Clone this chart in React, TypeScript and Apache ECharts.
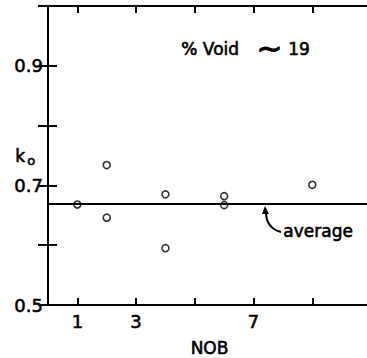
import React, { useEffect, useRef } from "react";
import * as echarts from "echarts";

const nobValues = [1, 2, 2, 4, 4, 6, 6, 9];
const k0Values = [0.668, 0.734, 0.646, 0.685, 0.595, 0.682, 0.667, 0.701];
const averageK0 = 0.673;
const xTicks = [1, 3, 5, 7, 9];
const xTickLabels = [1, 3, 7];
const yTicks = [0.5, 0.6, 0.7, 0.8, 0.9, 1.0];
const yTickLabels = [0.5, 0.7, 0.9];

const FONT = "'DejaVu Sans', sans-serif";
const thick = { textBorderColor: "#000", textBorderWidth: 0.6 };

export default function App() {
  const ref = useRef<HTMLDivElement>(null);
  useEffect(() => {
    if (!ref.current) return;
    const chart = echarts.init(ref.current, undefined, { renderer: "svg" });
    const axisLine = { show: true, lineStyle: { color: "#000", width: 2 } };
    const label = { color: "#000", fontSize: 18, fontFamily: FONT, ...thick };
    const txt = (text: string, left: number, top: number, fontSize = 17) => ({
      type: "text",
      left,
      top,
      style: { text, fill: "#000", fontSize, fontFamily: FONT, stroke: "#000", lineWidth: 0.6 },
    });
    chart.setOption({
      animation: false,
      backgroundColor: "#fff",
      grid: { left: 48, top: 6, right: -4, bottom: 53, containLabel: false, outerBoundsMode: "none" },
      xAxis: [
        {
          type: "value",
          min: 0,
          max: 11,
          position: "bottom",
          axisLine,
          axisTick: { show: true, inside: true, length: 7, customValues: xTicks, lineStyle: { color: "#000", width: 2 } },
          axisLabel: { ...label, customValues: xTickLabels, margin: 7 },
          splitLine: { show: false },
          name: "NOB",
          nameLocation: "middle",
          nameGap: 34,
          nameTextStyle: { color: "#000", fontSize: 17, fontFamily: FONT, ...thick },
        },
        {
          type: "value",
          min: 0,
          max: 11,
          position: "top",
          axisLine,
          axisTick: { show: true, inside: true, length: 7, customValues: xTicks, lineStyle: { color: "#000", width: 2 } },
          axisLabel: { show: false },
          splitLine: { show: false },
        },
      ],
      yAxis: [
        {
          type: "value",
          min: 0.5,
          max: 1.0,
          position: "left",
          axisLine,
          axisTick: { show: true, inside: true, length: 9, customValues: yTicks, lineStyle: { color: "#000", width: 2 } },
          axisLabel: { ...label, customValues: yTickLabels, margin: 5, formatter: (v: number) => v.toFixed(1) },
          splitLine: { show: false },
        },
        {
          type: "value",
          min: 0.5,
          max: 1.0,
          position: "right",
          axisLine,
          axisTick: { show: true, inside: true, length: 10, customValues: yTicks, lineStyle: { color: "#000", width: 2 } },
          axisLabel: { show: false },
          splitLine: { show: false },
        },
      ],
      series: [
        {
          type: "scatter",
          xAxisIndex: 0,
          yAxisIndex: 0,
          data: nobValues.map((x, i) => [x, k0Values[i]]),
          symbol: "circle",
          symbolSize: 7,
          itemStyle: { color: "#fff", borderColor: "#000", borderWidth: 1.6 },
          markLine: {
            silent: true,
            symbol: "none",
            label: { show: false },
            lineStyle: { color: "#000", width: 2, type: "solid" },
            data: [{ yAxis: averageK0 }],
          },
        },
      ],
      graphic: [
        txt("k", 15, 147, 17),
        txt("o", 27, 154, 13),
        txt("% Void", 181, 40, 17),
        {
          type: "text",
          left: 256,
          top: 32,
          style: { text: "∼", fill: "#000", fontSize: 31, fontFamily: FONT, stroke: "#000", lineWidth: 1 },
        },
        txt("19", 288, 40, 17),
        txt("average", 283, 222, 17),
        {
          type: "bezierCurve",
          shape: { x1: 266, y1: 212, cpx1: 266, cpy1: 228, x2: 281, y2: 232 },
          style: { stroke: "#000", lineWidth: 2, fill: "none" },
        },
        {
          type: "polygon",
          shape: { points: [[265, 206], [262, 214], [269, 214]] },
          style: { fill: "#000" },
        },
      ],
    });
    return () => chart.dispose();
  }, []);
  return <div ref={ref} style={{ position: "fixed", left: 0, top: 0, width: 367, height: 358 }} />;
}
